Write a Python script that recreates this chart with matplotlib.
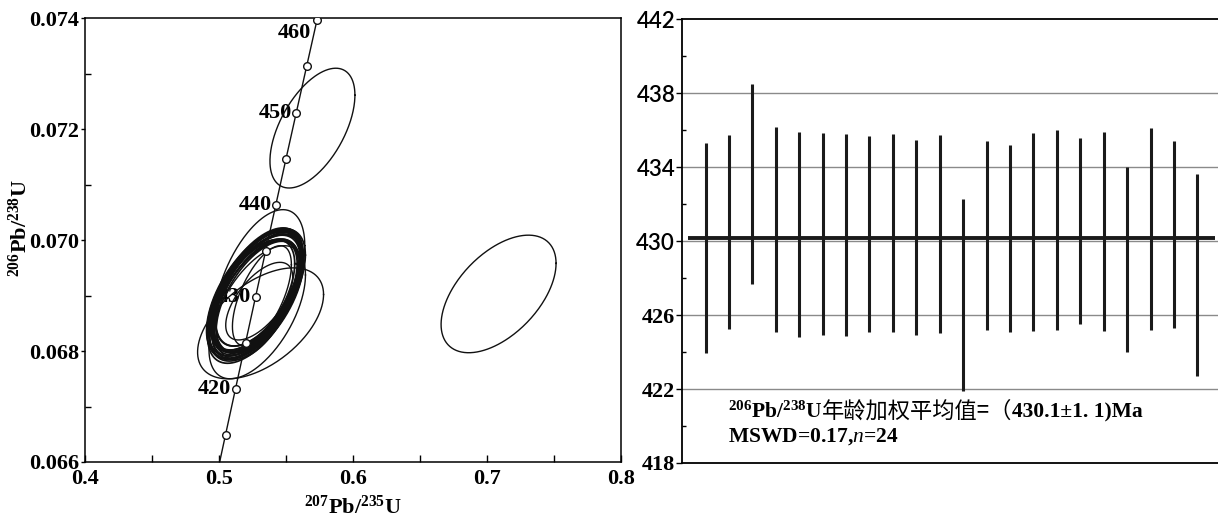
import numpy as np
import matplotlib
matplotlib.use('Agg')
import matplotlib.pyplot as plt
from matplotlib.ticker import MultipleLocator

plt.rcParams['mathtext.fontset'] = 'custom'
plt.rcParams['mathtext.rm'] = 'Liberation Serif:bold'
plt.rcParams['mathtext.it'] = 'Liberation Serif:italic'
plt.rcParams['mathtext.bf'] = 'Liberation Serif:bold'

SERIF = 'Liberation Serif'
CJK = 'Noto Sans CJK SC'

# concordia marker points (ages in Ma)
conc_age = [410, 415, 420, 425, 430, 435, 440, 445, 450, 455, 460]
conc_x = [0.49749, 0.50488, 0.51231, 0.51977, 0.52728, 0.53481,
          0.54239, 0.55000, 0.55766, 0.56535, 0.57307]
conc_y = [0.065667, 0.066494, 0.067322, 0.068150, 0.068979, 0.069808,
          0.070638, 0.071469, 0.072300, 0.073132, 0.073965]
conc_labels = [420, 430, 440, 450, 460]

# error ellipses: centre, half extents in x / y, correlation
ell_x = [0.5697, 0.7086, 0.531, 0.530, 0.5285, 0.530, 0.532,
         0.5275, 0.5280, 0.5285, 0.5290, 0.5270, 0.5265, 0.5280,
         0.5295, 0.5275, 0.5285, 0.5270, 0.5290, 0.5280, 0.5260, 0.5300,
         0.5255, 0.5300, 0.5275, 0.5290, 0.5265, 0.5285]
ell_y = [0.07202, 0.06903, 0.06850, 0.06920, 0.06870, 0.06890, 0.06900,
         0.06905, 0.06908, 0.06902, 0.06910, 0.06900, 0.06895, 0.06912,
         0.06906, 0.06898, 0.06904, 0.06910, 0.06900, 0.06896, 0.06890, 0.06915,
         0.06900, 0.06908, 0.06893, 0.06912, 0.06902, 0.06898]
ell_ax = [0.0317, 0.0429, 0.047, 0.034, 0.036, 0.025, 0.022,
          0.0355, 0.0340, 0.0335, 0.0330, 0.0360, 0.0318, 0.0338,
          0.0332, 0.0348, 0.0322, 0.0336, 0.0312, 0.0352, 0.0345, 0.0326,
          0.0310, 0.0344, 0.0328, 0.0315, 0.0358, 0.0306]
ell_ay = [0.00108, 0.00106, 0.00100, 0.00135, 0.00120, 0.00070, 0.00090,
          0.00114, 0.00110, 0.00109, 0.00111, 0.00115, 0.00104, 0.00110,
          0.00108, 0.00113, 0.00105, 0.00109, 0.00102, 0.00114, 0.00112, 0.00106,
          0.00101, 0.00112, 0.00106, 0.00103, 0.00115, 0.00100]
ell_rho = [0.55, 0.52, 0.52, 0.52, 0.56, 0.62, 0.62,
           0.58, 0.59, 0.57, 0.58, 0.56, 0.60, 0.58,
           0.59, 0.57, 0.58, 0.60, 0.56, 0.58, 0.57, 0.59,
           0.57, 0.58, 0.59, 0.56, 0.57, 0.60]

# weighted mean plot: bar ends (Ma)
bar_high = [435.33, 435.75, 438.49, 436.18, 435.92, 435.87, 435.82, 435.69,
            435.80, 435.48, 435.72, 432.27, 435.40, 435.19, 435.83, 436.00,
            435.58, 435.92, 434.00, 436.11, 435.40, 433.64]
bar_low = [423.95, 425.24, 427.69, 425.06, 424.81, 424.92, 424.86, 425.11,
           425.06, 424.92, 425.01, 421.87, 425.20, 425.06, 425.15, 425.19,
           425.53, 425.15, 423.98, 425.20, 425.29, 422.70]
mean_age = 430.15
age_ticks = [418, 422, 426, 430, 434, 438, 442]

fig = plt.figure(figsize=(12.18, 5.17), dpi=100)
ax1 = fig.add_axes([0.0698, 0.1064, 0.4401, 0.8582])
ax2 = fig.add_axes([0.5600, 0.1045, 0.4400, 0.8582])

# ---- concordia panel ----
t = np.linspace(0, 2 * np.pi, 300)
for k, (cx, cy, a, b, r) in enumerate(zip(ell_x, ell_y, ell_ax, ell_ay, ell_rho)):
    ex = cx + a * np.cos(t)
    ey = cy + b * (r * np.cos(t) + np.sqrt(1 - r * r) * np.sin(t))
    ax1.plot(ex, ey, color='#111111', lw=1.0 if k < 7 else 1.25, zorder=3)

ax1.plot(conc_x, conc_y, color='#111111', lw=1.0, zorder=2)
ax1.plot(conc_x, conc_y, 'o', ms=5.5, mfc='white', mec='#111111', mew=1.0,
         zorder=4)
offsets = {420: (-3, 0), 430: (-3, 0), 440: (-3, 0), 450: (-3, 0), 460: (-4, -9)}
for age in conc_labels:
    i = conc_age.index(age)
    ax1.annotate(str(age), (conc_x[i], conc_y[i]), xytext=offsets[age],
                 textcoords='offset points', ha='right', va='center',
                 fontsize=16, fontweight='bold', family=SERIF, zorder=1)

ax1.set_xlim(0.4, 0.8)
ax1.set_ylim(0.066, 0.074)
ax1.xaxis.set_major_locator(MultipleLocator(0.1))
ax1.xaxis.set_minor_locator(MultipleLocator(0.05))
ax1.yaxis.set_major_locator(MultipleLocator(0.002))
ax1.yaxis.set_minor_locator(MultipleLocator(0.001))
ax1.set_xticklabels([f'{v:.1f}' for v in ax1.get_xticks()])
ax1.set_yticklabels([f'{v:.3f}' for v in ax1.get_yticks()])
ax1.tick_params(axis='x', which='both', direction='in', length=5, width=1,
                pad=5)
ax1.tick_params(axis='y', which='major', direction='out', length=3, width=1,
                pad=1)
ax1.tick_params(axis='y', which='minor', direction='in', length=4, width=1)
for lbl in ax1.get_xticklabels() + ax1.get_yticklabels():
    lbl.set_fontfamily(SERIF)
    lbl.set_fontweight('bold')
    lbl.set_fontsize(16)
for s in ax1.spines.values():
    s.set_linewidth(1.1)
ax1.set_xlabel(r'$^{207}$Pb/$^{235}$U', fontsize=16, family=SERIF,
               fontweight='bold', labelpad=5)
ax1.set_ylabel(r'$^{206}$Pb/$^{238}$U', fontsize=16, family=SERIF,
               fontweight='bold')
ax1.yaxis.set_label_coords(-0.099, 0.527)

# ---- weighted mean panel ----
idx = np.arange(1, len(bar_high) + 1)
for v in age_ticks[1:-1]:
    ax2.axhline(v, color='#8a8a8a', lw=1.0, zorder=1)
ax2.vlines(idx, bar_low, bar_high, color='#1a1a1a', lw=2.2, zorder=3)
ax2.hlines(mean_age, 0.25, 22.75, color='#1a1a1a', lw=2.8, zorder=2)

ax2.set_xlim(0, 22.88)
ax2.set_ylim(418, 442)
ax2.set_yticks(age_ticks)
ax2.yaxis.set_minor_locator(MultipleLocator(2))
ax2.set_xticks([])
ax2.tick_params(axis='y', which='major', direction='out', length=4, width=1,
                pad=1)
ax2.tick_params(axis='y', which='minor', direction='in', length=3, width=1)
for lbl, v in zip(ax2.get_yticklabels(), age_ticks):
    lbl.set_fontsize(16)
    if v >= 430:
        lbl.set_fontfamily('Lato')
        lbl.set_fontweight('semibold')
    else:
        lbl.set_fontfamily(SERIF)
        lbl.set_fontweight('bold')
ax2.spines['right'].set_visible(False)
for s in ['left', 'top', 'bottom']:
    ax2.spines[s].set_linewidth(1.3)

t1 = ax2.text(1.94, 420.45, r'$^{206}$Pb/$^{238}$U', fontsize=15.5,
              family=SERIF, fontweight='bold', va='baseline')
t2 = ax2.annotate('年龄加权平均值=（', xy=(1, 0), xycoords=t1,
                  va='bottom', ha='left', fontsize=16, family=CJK)
t3 = ax2.annotate('430.1±1. 1)Ma', xy=(1, 0), xycoords=t2,
                  va='bottom', ha='left', fontsize=15.5, family=SERIF,
                  fontweight='bold')
ax2.text(1.94, 419.15, r'MSWD=0.17,$n$=24', fontsize=15.5, family=SERIF,
         fontweight='bold', va='baseline')

fig.savefig('out.png', dpi=100)
